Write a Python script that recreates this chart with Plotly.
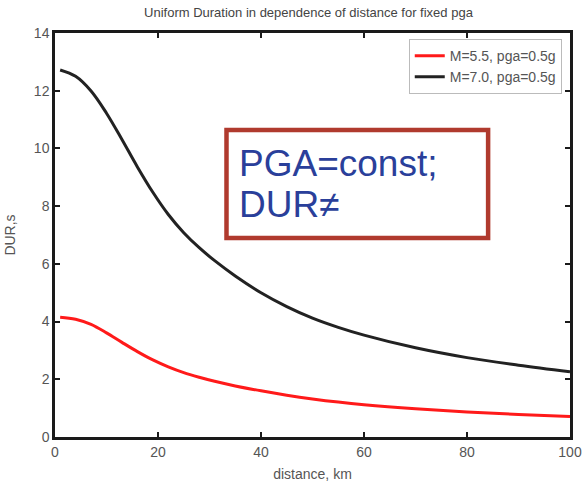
import plotly.graph_objects as go

# Data
dist_black = [1, 4, 7, 10, 13, 16, 19, 22, 25, 28, 31, 35, 40, 45, 50, 55, 60, 70, 80, 90, 100]
dur_m70 = [12.72, 12.50, 11.99, 11.22, 10.31, 9.36, 8.48, 7.71, 7.08, 6.56, 6.11, 5.58, 5.00,
           4.52, 4.12, 3.80, 3.53, 3.09, 2.75, 2.49, 2.26]

dist_red = [1, 4, 7, 10, 13, 16, 19, 22, 25, 28, 31, 35, 40, 45, 50, 55, 60, 70, 80, 90, 100]
dur_m55 = [4.15, 4.08, 3.90, 3.61, 3.28, 2.96, 2.67, 2.43, 2.23, 2.07, 1.93, 1.77, 1.60,
           1.45, 1.32, 1.21, 1.12, 0.98, 0.87, 0.78, 0.71]

names = ["M=5.5, pga=0.5g", "M=7.0, pga=0.5g"]
x_ticks = [0, 20, 40, 60, 80, 100]
y_ticks = [0, 2, 4, 6, 8, 10, 12, 14]

title = "Uniform Duration in dependence of distance for fixed pga"
note_lines = ["PGA=const;", "DUR≠"]

fig = go.Figure()
fig.add_trace(go.Scatter(x=dist_red, y=dur_m55, mode="lines", name=names[0],
                         line=dict(color="#ff1a1a", width=3, shape="spline", smoothing=1.0)))
fig.add_trace(go.Scatter(x=dist_black, y=dur_m70, mode="lines", name=names[1],
                         line=dict(color="#222222", width=3, shape="spline", smoothing=1.0)))

axis_common = dict(
    showline=True, linecolor="#1a1a1a", linewidth=2.5, mirror="ticks",
    ticks="inside", ticklen=5, tickwidth=2, tickcolor="#1a1a1a",
    showgrid=False, zeroline=False, automargin=False,
    tickfont=dict(family="Liberation Sans, Arial", size=14, color="#555555"),
)

fig.update_xaxes(range=[0, 100], tickvals=x_ticks, **axis_common,
                 title=dict(text="distance, km",
                            font=dict(family="Liberation Sans, Arial", size=14, color="#555555")))
fig.update_yaxes(range=[0, 14], tickvals=y_ticks, **axis_common,
                 title=dict(text="DUR,s",
                            font=dict(family="Liberation Sans, Arial", size=14, color="#555555")))

fig.update_layout(
    width=582, height=482,
    margin=dict(l=55, r=12, t=33, b=45),
    paper_bgcolor="white", plot_bgcolor="white",
    title=dict(text=title, x=0.53, xanchor="center", y=0.975, yanchor="middle",
               font=dict(family="Liberation Sans, Arial", size=13, color="#444444")),
    showlegend=True,
    legend=dict(x=0.984, y=0.985, xanchor="right", yanchor="top",
                bgcolor="white", bordercolor="#bbbbbb", borderwidth=1,
                font=dict(family="Liberation Sans, Arial", size=14, color="#555555"),
                tracegroupgap=0, itemwidth=30),
)

# Annotation box
fig.add_shape(type="rect", xref="paper", yref="paper",
              x0=0.333, x1=0.841, y0=0.4926, y1=0.760,
              line=dict(color="#b03a2e", width=4.5), fillcolor="white", layer="above")
fig.add_annotation(xref="paper", yref="paper", x=0.354, y=0.678, xanchor="left", yanchor="middle",
                   text=note_lines[0], showarrow=False,
                   font=dict(family="Liberation Sans, Arial", size=37, color="#2a3f9a"))
fig.add_annotation(xref="paper", yref="paper", x=0.354, y=0.575, xanchor="left", yanchor="middle",
                   text=note_lines[1], showarrow=False,
                   font=dict(family="Liberation Sans, Arial", size=37, color="#2a3f9a"))

fig.write_html("out.html")
